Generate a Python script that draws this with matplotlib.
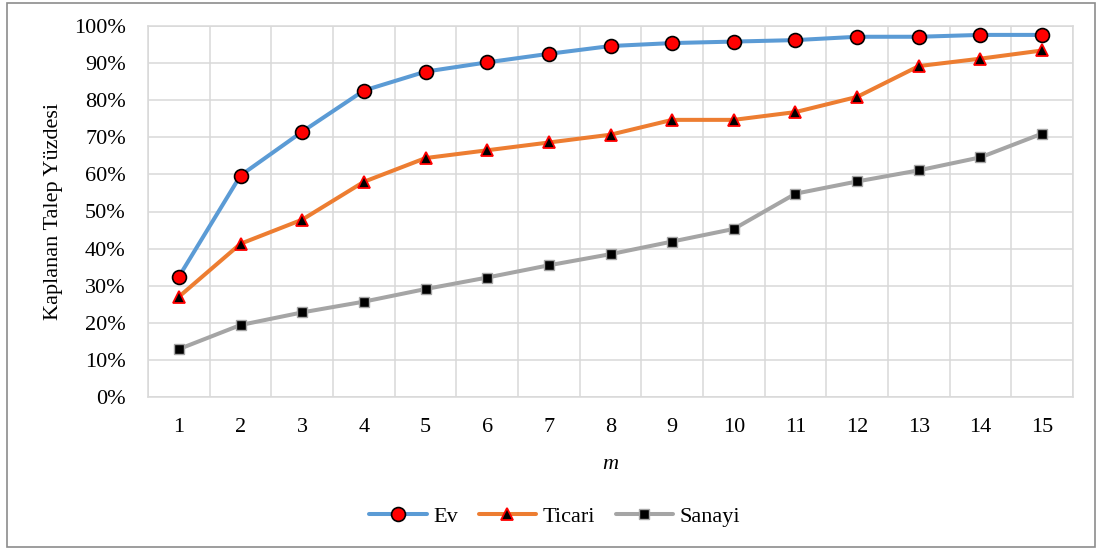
import matplotlib
matplotlib.use("Agg")
import os
import matplotlib.pyplot as plt
from matplotlib import font_manager
from matplotlib.patches import Rectangle
from matplotlib.ticker import FuncFormatter

m_values = list(range(1, 16))
ev = [32.4, 59.7, 71.5, 82.6, 87.7, 90.2, 92.5, 94.6, 95.4, 95.8, 96.2, 97.1, 97.1, 97.6, 97.6]
ticari = [27.0, 41.3, 47.8, 58.0, 64.4, 66.5, 68.6, 70.7, 74.7, 74.7, 76.8, 80.9, 89.2, 91.2, 93.4]
sanayi = [12.9, 19.4, 22.8, 25.7, 29.1, 32.2, 35.5, 38.5, 41.9, 45.3, 54.8, 58.1, 61.1, 64.6, 71.0]
y_ticks = list(range(0, 101, 10))

# register any Times-like serif files present on the system
for path in font_manager.findSystemFonts():
    base = os.path.basename(path).lower()
    if any(k in base for k in ('liberationserif', 'tinos', 'times', 'nimbusroman')):
        try:
            font_manager.fontManager.addfont(path)
        except Exception:
            pass

installed = {f.name for f in font_manager.fontManager.ttflist}
serif_choice = [n for n in ['Liberation Serif', 'Tinos', 'Times New Roman', 'Nimbus Roman',
                            'Nimbus Roman No9 L', 'DejaVu Serif'] if n in installed]
plt.rcParams['font.family'] = serif_choice + ['DejaVu Sans']

fig = plt.figure(figsize=(10.96, 5.49), dpi=100)
ax = fig.add_axes([148 / 1096, 1 - 397 / 549, (1073 - 148) / 1096, (397 - 26) / 549])

# outer chart frame
fig.patches.append(Rectangle((6.5 / 1096, 2.5 / 549), (1095 - 6.5) / 1096, (546.5 - 2.5) / 549,
                             transform=fig.transFigure, fill=False,
                             edgecolor='#8C8C8C', linewidth=1.2))

ax.plot(m_values, ev, color='#5B9BD5', lw=2.9, marker='o', markersize=10,
        markerfacecolor='#FF0000', markeredgecolor='black', markeredgewidth=1.2,
        label='Ev', solid_capstyle='round', zorder=4)
ax.plot(m_values, ticari, color='#ED7D31', lw=2.9, marker='^', markersize=8.5,
        markerfacecolor='black', markeredgecolor='#FF0000', markeredgewidth=1.3,
        label='Ticari', solid_capstyle='round', zorder=3)
ax.plot(m_values, sanayi, color='#A5A5A5', lw=2.9, marker='s', markersize=7.5,
        markerfacecolor='black', markeredgecolor='#A5A5A5', markeredgewidth=1.0,
        label='Sanayi', solid_capstyle='round', zorder=2)

ax.set_xlim(0.5, 15.5)
ax.set_ylim(0, 100)
ax.set_xticks(m_values)
ax.set_yticks(y_ticks)
ax.yaxis.set_major_formatter(FuncFormatter(lambda v, p: f"{int(v)}%"))

# vertical gridlines sit between categories
for xb in [i + 0.5 for i in range(0, 16)]:
    ax.axvline(xb, color='#D9D9D9', lw=1.1, zorder=0)
ax.yaxis.grid(True, color='#D9D9D9', lw=1.1, zorder=0)
ax.set_axisbelow(True)

for s in ax.spines.values():
    s.set_color('#D9D9D9')
    s.set_linewidth(1.1)

ax.tick_params(axis='both', length=0, labelsize=16, colors='black')
ax.tick_params(axis='x', pad=15)
ax.tick_params(axis='y', pad=16)

ax.set_xlabel('m', fontsize=16, style='italic', labelpad=13)
ax.set_ylabel('Kaplanan Talep Yüzdesi', fontsize=16, labelpad=8)

leg = fig.legend(loc='center', bbox_to_anchor=(555 / 1096, 1 - 517 / 549), ncol=3,
                 frameon=False, fontsize=16, handlelength=2.6, columnspacing=0.9,
                 handletextpad=0.3)

fig.savefig('out.png', dpi=100)
